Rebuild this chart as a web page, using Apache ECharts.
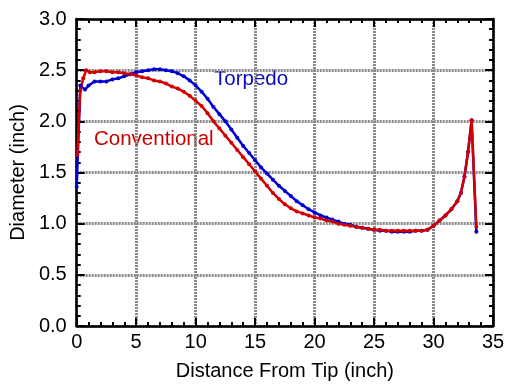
<!DOCTYPE html>
<html><head><meta charset="utf-8">
<script src="https://cdn.jsdelivr.net/npm/echarts@6/dist/echarts.min.js"></script>
<style>html,body{margin:0;padding:0;background:#fff}#c{width:512px;height:389px}</style>
</head><body><div id="c"></div>
<script>
const torpedoX = [0.0,0.3,0.7,1.0,1.5,2.0,2.5,3.0,3.5,4.0,4.5,5.0,5.5,6.0,6.5,7.0,7.5,8.0,8.5,9.0,9.5,10.0,10.5,11.0,11.5,12.0,12.5,13.0,13.5,14.0,14.5,15.0,15.5,16.0,16.5,17.0,17.5,18.0,18.5,19.0,19.5,20.0,20.5,21.0,21.5,22.0,22.5,23.0,23.5,24.0,24.5,25.0,25.5,26.0,26.5,27.0,27.5,28.0,28.5,29.0,29.5,30.0,30.5,31.0,31.5,32.0,32.3,32.6,32.9,33.2,33.6];
const torpedoY = [1.36,2.35,2.31,2.35,2.39,2.39,2.39,2.41,2.42,2.44,2.46,2.48,2.49,2.50,2.51,2.51,2.50,2.49,2.47,2.44,2.40,2.35,2.29,2.22,2.14,2.07,2.00,1.92,1.84,1.76,1.69,1.62,1.55,1.49,1.43,1.37,1.32,1.27,1.22,1.18,1.14,1.11,1.08,1.06,1.04,1.02,1.00,0.99,0.97,0.96,0.95,0.94,0.93,0.93,0.92,0.92,0.92,0.92,0.93,0.93,0.94,0.98,1.03,1.08,1.14,1.22,1.30,1.46,1.70,2.01,0.92];
const convX = [0.05,0.3,0.55,0.8,1.1,1.5,2.0,2.5,3.0,3.5,4.0,4.5,5.0,5.5,6.0,6.5,7.0,7.5,8.0,8.5,9.0,9.5,10.0,10.5,11.0,11.5,12.0,12.5,13.0,13.5,14.0,14.5,15.0,15.5,16.0,16.5,17.0,17.5,18.0,18.5,19.0,19.5,20.0,20.5,21.0,21.5,22.0,22.5,23.0,23.5,24.0,24.5,25.0,25.5,26.0,26.5,27.0,27.5,28.0,28.5,29.0,29.5,30.0,30.5,31.0,31.5,32.0,32.3,32.6,32.9,33.2,33.6];
const convY = [1.67,2.30,2.42,2.50,2.48,2.48,2.49,2.49,2.48,2.48,2.47,2.46,2.45,2.43,2.42,2.40,2.39,2.37,2.34,2.32,2.29,2.25,2.20,2.15,2.08,2.00,1.93,1.86,1.79,1.72,1.65,1.58,1.51,1.44,1.37,1.30,1.24,1.19,1.15,1.12,1.10,1.08,1.06,1.05,1.03,1.02,1.00,0.99,0.98,0.97,0.96,0.95,0.94,0.94,0.93,0.93,0.93,0.93,0.93,0.93,0.93,0.94,0.98,1.03,1.08,1.14,1.22,1.30,1.46,1.70,2.01,0.97];
const xTicks = {min:0,max:35,interval:5};
const yTicks = {min:0,max:3,interval:0.5};
const labels = {torpedo:'Torpedo', conventional:'Conventional', xName:'Distance From Tip (inch)', yName:'Diameter (inch)'};

const ff = '"Liberation Sans", Arial, sans-serif';
const axisLine = {show:true, onZero:false, lineStyle:{color:'#000', width:2.5}};
const tick = {show:true, inside:true, length:8, lineStyle:{color:'#000', width:2}};
const minor = {show:true, splitNumber:5, length:4, lineStyle:{color:'#000', width:2}};
const split = {show:true, lineStyle:{color:'#8a8a8a', width:3, type:[2,1]}};
const chart = echarts.init(document.getElementById('c'));
chart.setOption({
  animation:false,
  grid:{left:75, right:19, top:19, bottom:63},
  xAxis:[
    {type:'value', min:xTicks.min, max:xTicks.max, interval:xTicks.interval, position:'bottom',
     axisLine, axisTick:tick, minorTick:minor, splitLine:split,
     axisLabel:{color:'#000', fontSize:20, fontFamily:ff, margin:6},
     name:labels.xName, nameLocation:'middle', nameGap:35,
     nameTextStyle:{color:'#000', fontSize:20, fontFamily:ff}},
    {type:'value', min:xTicks.min, max:xTicks.max, interval:xTicks.interval, position:'top',
     axisLine, axisTick:tick, minorTick:minor, splitLine:{show:false}, axisLabel:{show:false}}
  ],
  yAxis:[
    {type:'value', min:yTicks.min, max:yTicks.max, interval:yTicks.interval, position:'left',
     axisLine, axisTick:tick, minorTick:minor, splitLine:split,
     axisLabel:{color:'#000', fontSize:20, fontFamily:ff, margin:10, formatter:v=>v.toFixed(1)},
     name:labels.yName, nameLocation:'middle', nameGap:47,
     nameTextStyle:{color:'#000', fontSize:20, fontFamily:ff}},
    {type:'value', min:yTicks.min, max:yTicks.max, interval:yTicks.interval, position:'right',
     axisLine, axisTick:tick, minorTick:minor, splitLine:{show:false}, axisLabel:{show:false}}
  ],
  series:[
    {type:'line', name:labels.torpedo, data:torpedoX.map((x,i)=>[x,torpedoY[i]]),
     xAxisIndex:0, yAxisIndex:0, symbol:'circle', symbolSize:4, showSymbol:true,
     lineStyle:{color:'#0000d0', width:2.5}, itemStyle:{color:'#0000d0'}},
    {type:'line', name:labels.conventional, data:convX.map((x,i)=>[x,convY[i]]),
     xAxisIndex:0, yAxisIndex:0, symbol:'circle', symbolSize:4, showSymbol:true,
     lineStyle:{color:'#d40000', width:2.5}, itemStyle:{color:'#d40000'}}
  ],
  graphic:[
    {type:'text', left:214, top:69, style:{text:labels.torpedo, fill:'#0a0ab4', fontSize:20.5, fontFamily:ff}},
    {type:'text', left:94, top:129, style:{text:labels.conventional, fill:'#c80000', fontSize:20.5, fontFamily:ff}}
  ]
});
</script></body></html>
